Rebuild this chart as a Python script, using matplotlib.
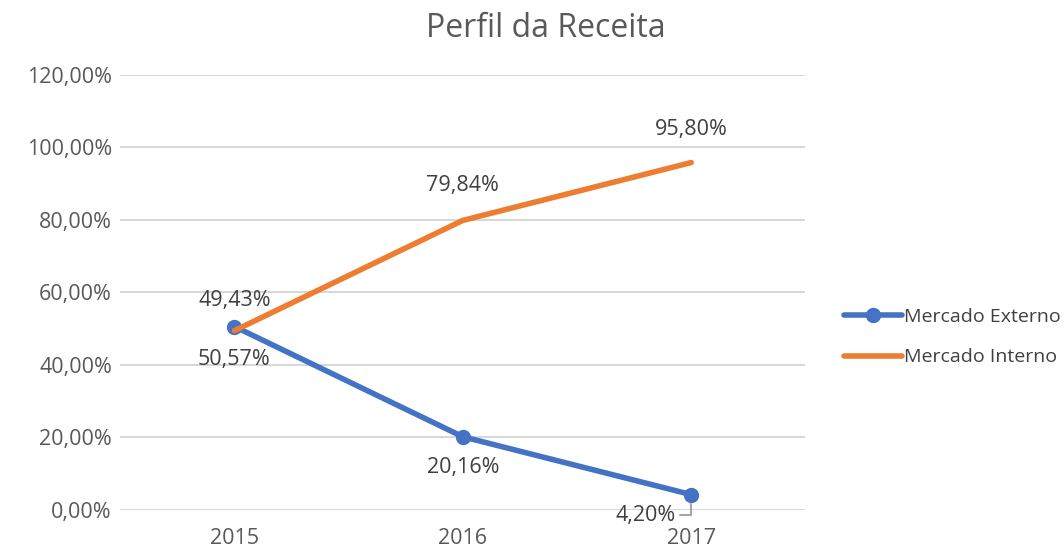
import matplotlib
matplotlib.use("Agg")
from matplotlib import pyplot as plt
from matplotlib.ticker import FuncFormatter

plt.rcParams['font.family'] = ['Open Sans', 'DejaVu Sans']

anos = ['2015', '2016', '2017']
externo = [50.57, 20.16, 4.20]
interno = [49.43, 79.84, 95.80]

azul = '#4472C4'
laranja = '#ED7D31'
cinza = '#595959'
texto = '#404040'
fs = 15.5

fig = plt.figure(figsize=(10.64, 5.5), dpi=100)
ax = fig.add_axes([0.113, 0.073, 0.644, 0.791])

x = [0.5, 1.5, 2.5]
ax.plot(x, externo, color=azul, lw=4, marker='o', ms=10, label='Mercado Externo',
        solid_capstyle='round', zorder=3)
ax.plot(x, interno, color=laranja, lw=4, label='Mercado Interno',
        solid_capstyle='round', zorder=4)

def fmt(v):
    return ('%.2f' % v).replace('.', ',') + '%'

# rótulos dos dados
ax.annotate(fmt(interno[0]), (x[0], interno[0]), xytext=(0, 22), textcoords='offset points',
            ha='center', va='center', fontsize=fs, color=texto)
ax.annotate(fmt(externo[0]), (x[0], externo[0]), xytext=(0, -24), textcoords='offset points',
            ha='center', va='center', fontsize=fs, color=texto)
ax.annotate(fmt(interno[1]), (x[1], interno[1]), xytext=(0, 25), textcoords='offset points',
            ha='center', va='center', fontsize=fs, color=texto)
ax.annotate(fmt(externo[1]), (x[1], externo[1]), xytext=(0, -22), textcoords='offset points',
            ha='center', va='center', fontsize=fs, color=texto)
ax.annotate(fmt(interno[2]), (x[2], interno[2]), xytext=(0, 24), textcoords='offset points',
            ha='center', va='center', fontsize=fs, color=texto)
ax.annotate(fmt(externo[2]), (x[2], externo[2]), xytext=(-11, -15), textcoords='offset points',
            ha='right', va='center', fontsize=fs, color=texto,
            arrowprops=dict(arrowstyle='-', color='#A6A6A6', lw=1.5,
                            connectionstyle='angle,angleA=0,angleB=90,rad=0',
                            shrinkA=1, shrinkB=7))

ax.set_xlim(0, 3)
ax.set_ylim(0, 120)
ax.set_yticks(range(0, 121, 20))
ax.yaxis.set_major_formatter(FuncFormatter(lambda v, p: fmt(v)))
ax.set_xticks(x)
ax.set_xticklabels(anos)
ax.tick_params(axis='both', length=0, labelsize=fs, colors=cinza)
ax.tick_params(axis='x', pad=13)
ax.tick_params(axis='y', pad=6)
ax.grid(axis='y', color='#D0D0D0', lw=1.2)
ax.set_axisbelow(True)
for s in ax.spines.values():
    s.set_visible(False)

fig.text(0.513, 0.948, 'Perfil da Receita', ha='center', va='center', fontsize=23, color=cinza)

ax.legend(loc='center left', bbox_to_anchor=(1.03, 0.397), frameon=False, fontsize=14,
          labelcolor=texto, handlelength=3.0, handletextpad=0.1, labelspacing=1.15)

fig.savefig('out.png', dpi=100)
